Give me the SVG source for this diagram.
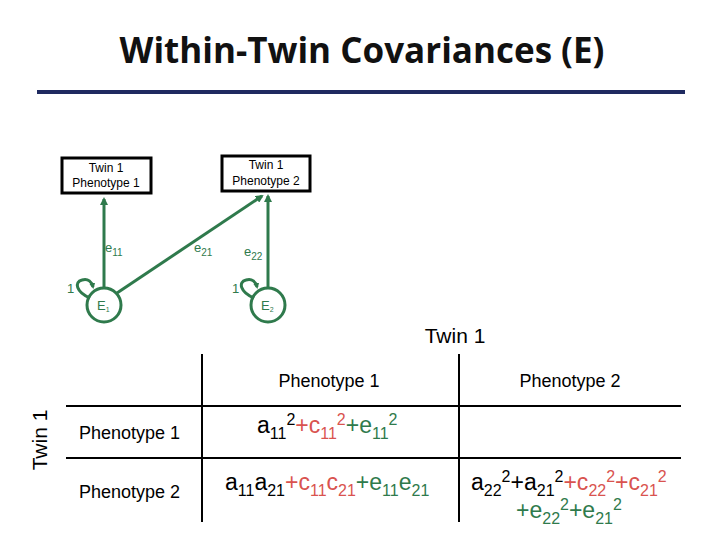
<svg xmlns="http://www.w3.org/2000/svg" width="720" height="540" viewBox="0 0 720 540">
<defs>
<marker id="ah" markerWidth="8" markerHeight="8" refX="6" refY="4" orient="auto" markerUnits="userSpaceOnUse"><path d="M0,0 L8,4 L0,8 Z" fill="#2f7a4c"/></marker>
<marker id="sh" markerWidth="6" markerHeight="6" refX="4" refY="3" orient="auto" markerUnits="userSpaceOnUse"><path d="M0,0 L6,3 L0,6 Z" fill="#2f7a4c"/></marker>
</defs>
<style>
.box{fill:#fff;stroke:#000;stroke-width:3}
.bt{font-family:"Liberation Sans",Arial,sans-serif;font-size:12px;text-anchor:middle}
.h{font-family:"Liberation Sans",Arial,sans-serif;font-size:18px;text-anchor:middle}
.g{stroke:#2f7a4c;stroke-width:3;fill:none}
.gt{font-family:"Liberation Sans",Arial,sans-serif;font-size:13px;fill:#2f7a4c}
.t{font-family:"Liberation Sans",Arial,sans-serif;font-size:21px}
.f{font-family:"Liberation Sans",Arial,sans-serif;font-size:23px}
.ln{stroke:#000;stroke-width:2}
.k{fill:#000}.r{fill:#d9534f}.gr{fill:#2f7a4c}
</style>
<text x="362" y="63" text-anchor="middle" font-family="Open Sans,sans-serif" font-weight="bold" font-size="35" fill="#111">Within-Twin Covariances (E)</text>
<rect x="37" y="90" width="648" height="4" fill="#1f2a60"/>
<g id="connectors">
<line class="g" x1="104" y1="288" x2="104" y2="199" marker-end="url(#ah)"/>
<line class="g" x1="268" y1="288" x2="268" y2="196" marker-end="url(#ah)"/>
<line class="g" x1="117" y1="293" x2="262" y2="196" marker-end="url(#ah)"/>
<path class="g" d="M90,298 C76,292 74,282 82,280 C88,278 92,282 93,287" marker-end="url(#sh)"/>
<path class="g" d="M254,298 C240,292 238,282 246,280 C252,278 256,282 257,287" marker-end="url(#sh)"/>
<text class="gt" x="105" y="252">e<tspan font-size="10" dy="4">11</tspan></text>
<text class="gt" x="194" y="252">e<tspan font-size="10" dy="4">21</tspan></text>
<text class="gt" x="244" y="256">e<tspan font-size="10" dy="4">22</tspan></text>
<text class="gt" x="67" y="293" font-size="12">1</text>
<text class="gt" x="232" y="293" font-size="12">1</text>
</g>
<g id="n_t1p1"><rect class="box" x="62" y="158" width="89" height="35"/><text class="bt" x="106" y="172">Twin 1</text><text class="bt" x="106" y="187">Phenotype 1</text></g>
<g id="n_t1p2"><rect class="box" x="222" y="156" width="88" height="35"/><text class="bt" x="266" y="169">Twin 1</text><text class="bt" x="266" y="185">Phenotype 2</text></g>
<g id="n_E1"><circle class="g" cx="104" cy="305" r="17" fill="#fff"/><text class="gt" x="97" y="310" font-size="11">E<tspan font-size="7" dy="2">1</tspan></text></g>
<g id="n_E2"><circle class="g" cx="268" cy="305" r="17" fill="#fff"/><text class="gt" x="261" y="310" font-size="11">E<tspan font-size="7" dy="2">2</tspan></text></g>
<g id="table">
<text class="t" x="455" y="343" text-anchor="middle">Twin 1</text>
<text class="t" x="47" y="440" text-anchor="middle" transform="rotate(-90 47 440)">Twin 1</text>
<line class="ln" x1="202" y1="354" x2="202" y2="522"/>
<line class="ln" x1="459" y1="354" x2="459" y2="522"/>
<line class="ln" x1="66" y1="406" x2="681" y2="406"/>
<line class="ln" x1="66" y1="458" x2="681" y2="458"/>
<text class="h" x="329" y="387">Phenotype 1</text>
<text class="h" x="570" y="387">Phenotype 2</text>
<text x="79" y="439" font-family="Liberation Sans,Arial,sans-serif" font-size="18">Phenotype 1</text>
<text x="79" y="498" font-family="Liberation Sans,Arial,sans-serif" font-size="18">Phenotype 2</text>
<text class="f" x="257" y="433"><tspan class="k">a</tspan><tspan class="k" font-size="16" dy="6">11</tspan><tspan class="k" font-size="16" dy="-14">2</tspan><tspan class="r" dy="8">+c</tspan><tspan class="r" font-size="16" dy="6">11</tspan><tspan class="r" font-size="16" dy="-14">2</tspan><tspan class="gr" dy="8">+e</tspan><tspan class="gr" font-size="16" dy="6">11</tspan><tspan class="gr" font-size="16" dy="-14">2</tspan></text>
<text class="f" x="225" y="490"><tspan class="k">a</tspan><tspan class="k" font-size="16" dy="6">11</tspan><tspan class="k" dy="-6">a</tspan><tspan class="k" font-size="16" dy="6">21</tspan><tspan class="r" dy="-6">+c</tspan><tspan class="r" font-size="16" dy="6">11</tspan><tspan class="r" dy="-6">c</tspan><tspan class="r" font-size="16" dy="6">21</tspan><tspan class="gr" dy="-6">+e</tspan><tspan class="gr" font-size="16" dy="6">11</tspan><tspan class="gr" dy="-6">e</tspan><tspan class="gr" font-size="16" dy="6">21</tspan></text>
<text class="f" x="471" y="490"><tspan class="k">a</tspan><tspan class="k" font-size="16" dy="6">22</tspan><tspan class="k" font-size="16" dy="-14">2</tspan><tspan class="k" dy="8">+a</tspan><tspan class="k" font-size="16" dy="6">21</tspan><tspan class="k" font-size="16" dy="-14">2</tspan><tspan class="r" dy="8">+c</tspan><tspan class="r" font-size="16" dy="6">22</tspan><tspan class="r" font-size="16" dy="-14">2</tspan><tspan class="r" dy="8">+c</tspan><tspan class="r" font-size="16" dy="6">21</tspan><tspan class="r" font-size="16" dy="-14">2</tspan></text>
<text class="f" x="516" y="518"><tspan class="gr">+e</tspan><tspan class="gr" font-size="16" dy="6">22</tspan><tspan class="gr" font-size="16" dy="-14">2</tspan><tspan class="gr" dy="8">+e</tspan><tspan class="gr" font-size="16" dy="6">21</tspan><tspan class="gr" font-size="16" dy="-14">2</tspan></text>
</g>
</svg>
